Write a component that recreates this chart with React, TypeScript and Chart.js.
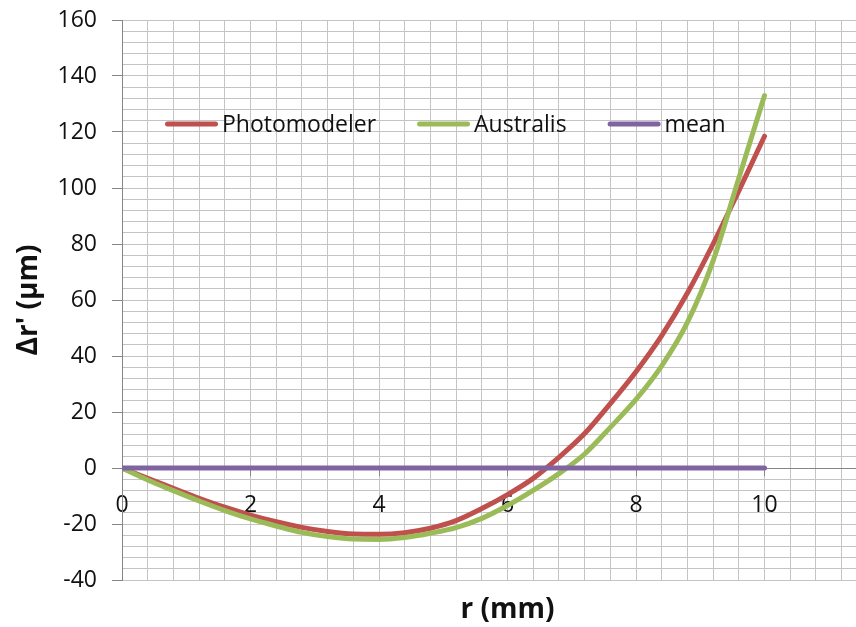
import React, { useEffect, useRef } from 'react';
import { Chart, registerables } from 'chart.js';

Chart.register(...registerables);

// ---- data ----
const rValues = [0, 0.4, 0.8, 1.2, 1.6, 2.0, 2.4, 2.8, 3.2, 3.6, 4.0, 4.4, 4.8, 5.2, 5.6, 6.0, 6.4, 6.8, 7.2, 7.6, 8.0, 8.4, 8.8, 9.2, 9.6, 10.0];
const photomodeler = [0, -3.7, -7.3, -10.8, -14, -16.8, -19.2, -21.2, -22.7, -23.6, -23.7, -23.1, -21.5, -18.8, -14.5, -9.5, -3.7, 3.8, 12.3, 23, 34.4, 47.3, 62.5, 80, 99, 118.5];
const australis = [0, -4.3, -8.1, -11.8, -15.2, -18.2, -20.7, -23, -24.5, -25.4, -25.5, -24.8, -23.3, -21.3, -18, -13.4, -8, -2, 5, 14.5, 24.5, 36.5, 52, 74, 103.5, 133];
const meanR = [0, 10];
const meanValues = [0, 0];

const seriesNames = ['Photomodeler', 'Australis', 'mean'];
const xLabelTicks = [0, 2, 4, 6, 8, 10];
const yLabelTicks = [-40, -20, 0, 20, 40, 60, 80, 100, 120, 140, 160];
const X_MIN = 0;
const X_MAX = 12;
const X_MINOR = 0.4;
const Y_MIN = -40;
const Y_MAX = 160;
const Y_MINOR = 4;

const FONT = '"Open Sans", Lato, "DejaVu Sans", sans-serif';
const GRID = '#c4c4c4';
const AXIS = '#868686';
const TEXT = '#111111';
const COLORS = ['#C0504D', '#9BBB59', '#8064A2'];

const CANVAS_W = 893;
const CANVAS_H = 627;

function range(a: number, b: number, step: number): number[] {
  const out: number[] = [];
  const n = Math.round((b - a) / step);
  for (let i = 0; i <= n; i++) out.push(Math.round((a + i * step) * 1000) / 1000);
  return out;
}

const xGridTicks = range(X_MIN, X_MAX, X_MINOR);
const yGridTicks = range(Y_MIN, Y_MAX, Y_MINOR);

const insideLegend = {
  id: 'insideLegend',
  afterDraw(chart: any) {
    const { ctx, chartArea } = chart;
    ctx.save();
    ctx.font = `23px ${FONT}`;
    ctx.textBaseline = 'middle';
    ctx.textAlign = 'left';
    let x = chartArea.left + 43;
    const y = chartArea.top + 104;
    chart.data.datasets.forEach((ds: any) => {
      ctx.beginPath();
      ctx.lineWidth = 5;
      ctx.lineCap = 'round';
      ctx.strokeStyle = ds.borderColor;
      ctx.moveTo(x + 2.5, y);
      ctx.lineTo(x + 50.5, y);
      ctx.stroke();
      x += 57;
      ctx.fillStyle = TEXT;
      ctx.fillText(ds.label, x, y + 1);
      x += ctx.measureText(ds.label).width + 41;
    });
    ctx.restore();
  },
};

export default function App() {
  const ref = useRef<HTMLCanvasElement | null>(null);

  useEffect(() => {
    if (!ref.current) return;
    const toPts = (xs: number[], ys: number[]) => xs.map((x, i) => ({ x, y: ys[i] }));
    const lineDs = (i: number, xs: number[], ys: number[], order: number) => ({
      label: seriesNames[i],
      data: toPts(xs, ys),
      borderColor: COLORS[i],
      backgroundColor: COLORS[i],
      borderWidth: 5,
      pointRadius: 0,
      cubicInterpolationMode: 'monotone',
      borderCapStyle: 'round',
      order,
    });
    const chart = new Chart(ref.current, {
      type: 'line',
      data: {
        datasets: [
          lineDs(0, rValues, photomodeler, 2),
          lineDs(1, rValues, australis, 1),
          lineDs(2, meanR, meanValues, 0),
        ],
      },
      options: {
        responsive: false,
        animation: false,
        layout: { padding: { left: 0, right: 0, top: 20, bottom: 0 } },
        plugins: {
          legend: { display: false },
          tooltip: { enabled: false },
        },
        scales: {
          x: {
            type: 'linear',
            position: 'bottom',
            min: X_MIN,
            max: X_MAX,
            afterBuildTicks: (s: any) => {
              s.ticks = xGridTicks.map((v) => ({ value: v }));
            },
            afterFit: (s: any) => {
              s.height = 47;
              s.paddingLeft = 0;
              s.paddingRight = 0;
            },
            ticks: { display: false },
            grid: { color: GRID, drawTicks: false, lineWidth: 1 },
            border: { display: false },
            title: {
              display: true,
              text: 'r (mm)',
              color: TEXT,
              font: { family: FONT, size: 28, weight: 'bold' },
              padding: { top: 0, bottom: 0 },
            },
          },
          x2: {
            type: 'linear',
            position: { y: 0 },
            min: X_MIN,
            max: X_MAX,
            afterBuildTicks: (s: any) => {
              s.ticks = xLabelTicks.map((v) => ({ value: v }));
            },
            grid: { drawOnChartArea: false, drawTicks: true, tickLength: 7, tickColor: AXIS },
            border: { display: true, color: AXIS, width: 1 },
            ticks: {
              autoSkip: false,
              maxRotation: 0,
              padding: 17,
              color: TEXT,
              font: { family: FONT, size: 23 },
              callback: (v: any) => String(v),
            },
          },
          y: {
            type: 'linear',
            min: Y_MIN,
            max: Y_MAX,
            afterBuildTicks: (s: any) => {
              s.ticks = yGridTicks.map((v) => ({ value: v }));
            },
            afterFit: (s: any) => {
              s.width = 122;
              s.paddingTop = 0;
              s.paddingBottom = 0;
            },
            grid: {
              color: GRID,
              lineWidth: 1,
              tickLength: 10,
              tickColor: (c: any) =>
                c.tick && yLabelTicks.includes(c.tick.value) ? AXIS : 'rgba(0,0,0,0)',
            },
            border: { display: true, color: AXIS, width: 1 },
            ticks: {
              autoSkip: false,
              padding: 15,
              color: TEXT,
              font: { family: FONT, size: 23 },
              callback: (v: any) => (yLabelTicks.includes(Number(v)) ? String(v) : ''),
            },
            title: {
              display: true,
              text: 'Δr\' (μm)',
              color: TEXT,
              font: { family: FONT, size: 28, weight: 'bold' },
              padding: { top: 12, bottom: 0 },
            },
          },
        },
      } as any,
      plugins: [insideLegend],
    } as any);
    return () => chart.destroy();
  }, []);

  return (
    <div
      style={{
        position: 'fixed',
        left: 0,
        top: 0,
        width: 856,
        height: 627,
        overflow: 'hidden',
        background: '#fff',
      }}
    >
      <canvas ref={ref} width={CANVAS_W} height={CANVAS_H} style={{ display: 'block' }} />
    </div>
  );
}
